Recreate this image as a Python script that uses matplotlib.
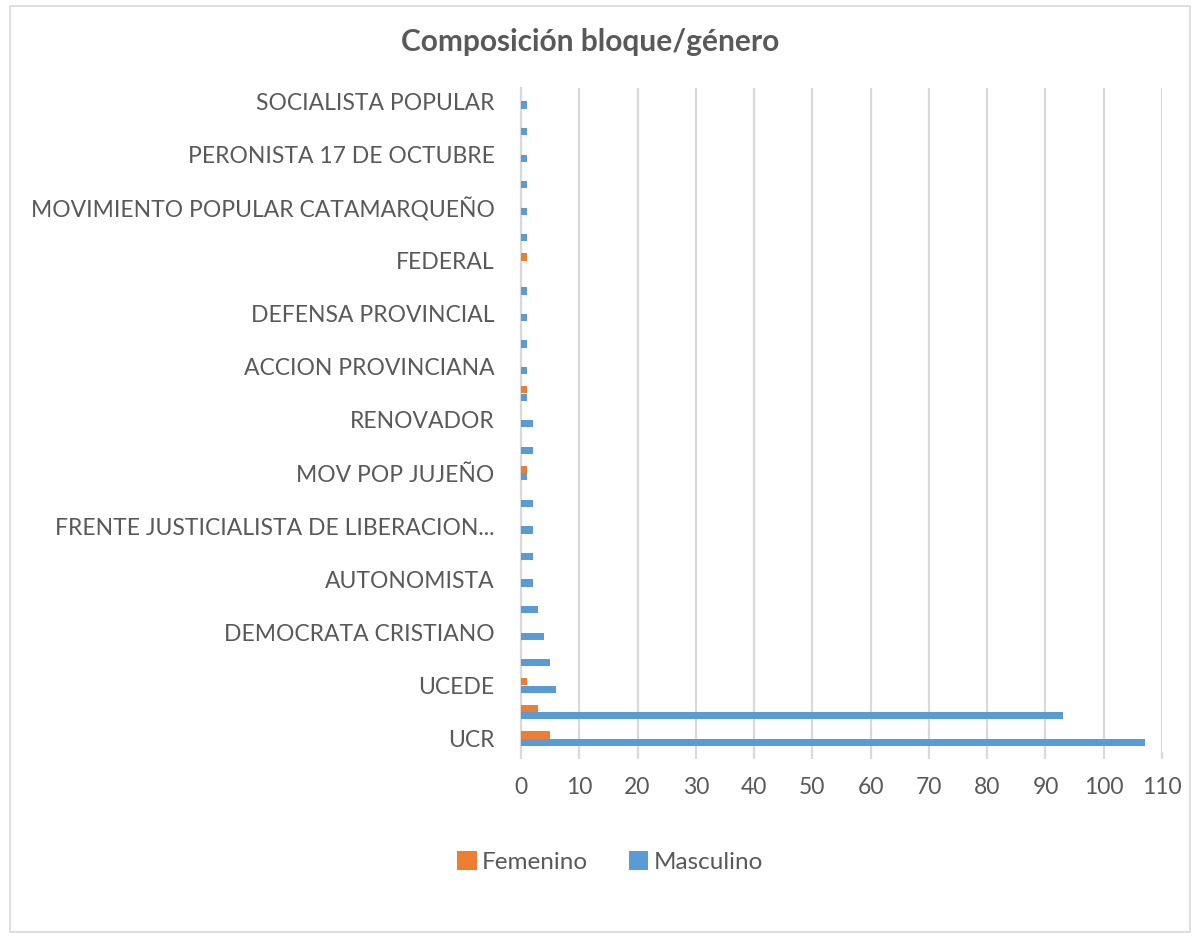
import numpy as np
import matplotlib
matplotlib.use("Agg")
from matplotlib import pyplot as plt
from matplotlib.patches import Rectangle

# categories from bottom to top (every other label is hidden, as in the source chart)
bloques = ["UCR", "JUSTICIALISTA", "UCEDE", "INTRANSIGENTE", "DEMOCRATA CRISTIANO",
           "MOVIMIENTO POPULAR NEUQUINO", "AUTONOMISTA", "BLOQUISTA",
           "FRENTE JUSTICIALISTA DE LIBERACION NACIONAL", "LIBERAL", "MOV POP JUJEÑO",
           "PACTO AUTONOMISTA LIBERAL", "RENOVADOR", "FUERZA REPUBLICANA",
           "ACCION PROVINCIANA", "CRUZADA RENOVADORA", "DEFENSA PROVINCIAL",
           "MOVIMIENTO FEDERALISTA PAMPEANO", "FEDERAL", "DEMOCRATA PROGRESISTA",
           "MOVIMIENTO POPULAR CATAMARQUEÑO", "PARTIDO BLANCO", "PERONISTA 17 DE OCTUBRE",
           "UNION POPULAR", "SOCIALISTA POPULAR"]
femenino = [5, 3, 1, 0, 0, 0, 0, 0, 0, 0, 1, 0, 0, 1, 0, 0, 0, 0, 1, 0, 0, 0, 0, 0, 0]
masculino = [107, 93, 6, 5, 4, 3, 2, 2, 2, 2, 1, 2, 2, 1, 1, 1, 1, 1, 0, 1, 1, 1, 1, 1, 1]
shown_labels = ["UCR", "UCEDE", "DEMOCRATA CRISTIANO", "AUTONOMISTA",
                "FRENTE JUSTICIALISTA DE LIBERACION...", "MOV POP JUJEÑO", "RENOVADOR",
                "ACCION PROVINCIANA", "DEFENSA PROVINCIAL", "FEDERAL",
                "MOVIMIENTO POPULAR CATAMARQUEÑO", "PERONISTA 17 DE OCTUBRE",
                "SOCIALISTA POPULAR"]
x_ticks = list(range(0, 111, 10))

ORANGE = "#ED7D31"
BLUE = "#5B9BD5"
GRAY = "#595959"
GRID = "#D9D9D9"

plt.rcParams['font.family'] = ['Lato', 'DejaVu Sans']

fig = plt.figure(figsize=(11.97, 9.36), dpi=100)
ax = fig.add_axes([521 / 1197, 1 - 752 / 936, (1162 - 521) / 1197, (752 - 88) / 936])

y = np.arange(len(bloques))
h = 0.27
ax.barh(y + 0.14, femenino, height=h, color=ORANGE, label="Femenino", zorder=3)
ax.barh(y - 0.14, masculino, height=h, color=BLUE, label="Masculino", zorder=3)

ax.set_xlim(0, 110)
ax.set_ylim(-0.5, len(bloques) - 0.5)
ax.set_xticks(x_ticks)
ax.set_xticklabels([str(t) for t in x_ticks], fontsize=16.5, color=GRAY)
ax.set_yticks(y[::2])
ax.set_yticklabels(shown_labels, fontsize=16.5, color=GRAY)
ax.tick_params(axis='y', length=0, pad=19)
ax.tick_params(axis='x', length=5, width=1.6, color=GRID, pad=13)
ax.grid(axis='x', color=GRID, linewidth=1.6, zorder=0)
for s in ["top", "right", "bottom"]:
    ax.spines[s].set_visible(False)
ax.spines["left"].set_color(GRID)
ax.spines["left"].set_linewidth(1.6)

fig.text(590 / 1197, 1 - 42 / 936, "Composición bloque/género", ha="center", va="center",
         fontsize=21.5, fontweight="bold", color=GRAY)

handles, labels = ax.get_legend_handles_labels()
fig.legend(handles, labels, loc="center", bbox_to_anchor=(610 / 1197, 1 - 862 / 936),
           ncol=2, frameon=False, fontsize=17.5, labelcolor=GRAY, handlelength=0.8,
           handleheight=0.8, handletextpad=0.2, columnspacing=1.7)

fig.add_artist(Rectangle((10 / 1197, 4 / 936), 1180 / 1197, 926 / 936,
                         transform=fig.transFigure, fill=False, edgecolor=GRID, linewidth=1.2))

fig.savefig("out.png", dpi=100, facecolor="white")
